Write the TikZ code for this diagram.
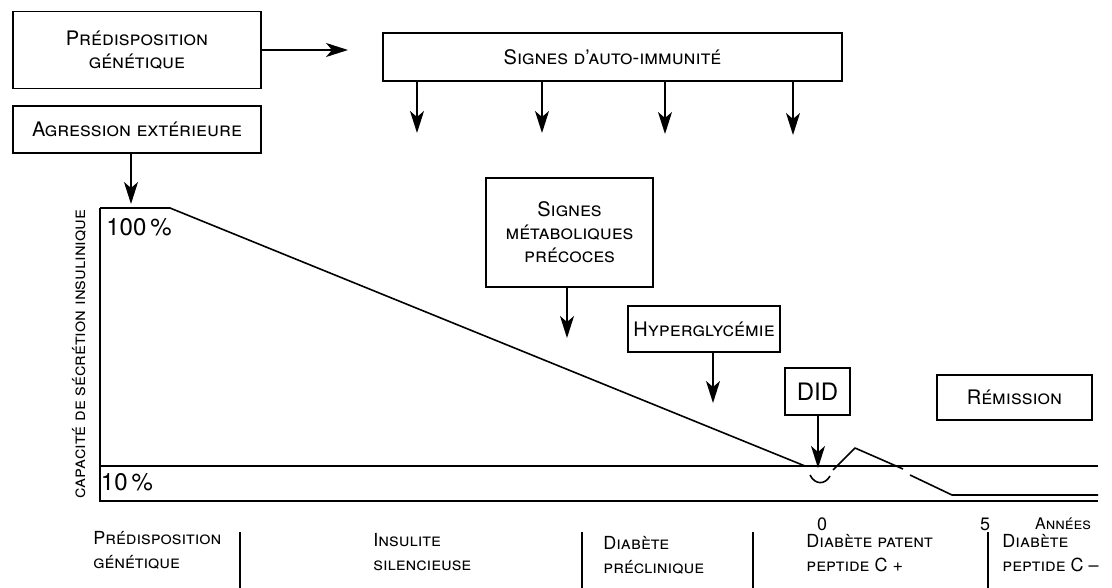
\documentclass[tikz,border=0pt]{standalone}
\usepackage{fontspec}
\setmainfont{TeX Gyre Heros}
\usetikzlibrary{arrows.meta}
\tikzstyle{box} = [rectangle, draw=black, line width=0.7pt, text centered, align=center, inner sep=1pt, font=\scshape\fontsize{10}{11.5}\selectfont]
\tikzstyle{arrow} = [line width=0.7pt, -{Stealth[length=11pt, width=7pt, inset=3pt]}]
\tikzstyle{phase} = [align=left, anchor=west, inner sep=0pt, font=\scshape\fontsize{9}{12}\selectfont]
\tikzstyle{axis} = [line width=1.2pt]
\tikzstyle{trace} = [line width=0.8pt, line join=round]

\begin{document}
\begin{tikzpicture}[x=0.5pt, y=-0.5pt]
\useasboundingbox (0,0) rectangle (1112,588);

% boxes
\node (genet) [box, minimum width=124pt, minimum height=38.5pt] at (137,50) {Prédisposition\\génétique};
\node (agress) [box, minimum width=124pt, minimum height=23.5pt] at (137,129.5) {Agression extérieure};
\node (auto) [box, minimum width=229.5pt, minimum height=24pt] at (612.5,57) {Signes d'auto-immunité};
\node (metab) [box, minimum width=83.5pt, minimum height=54.5pt] at (569.5,232.5) {Signes\\métaboliques\\précoces};
\node (hyper) [box, minimum width=76pt, minimum height=23pt] at (704,329) {Hyperglycémie};
\node (did) [box, minimum width=32.5pt, minimum height=23.5pt, font=\fontsize{12}{14}\selectfont] at (817.5,391.5) {DID};
\node (remis) [box, line width=1.3pt, minimum width=77.5pt, minimum height=22.5pt] at (1014.5,397.5) {Rémission};

% arrow ends
\coordinate (gtip) at (348,50);
\coordinate (t1) at (417,133);
\coordinate (t2) at (542,133);
\coordinate (t3) at (665,134);
\coordinate (t4) at (793,135);
\coordinate (atip) at (131,204);
\coordinate (mtip) at (567,338);
\coordinate (htip) at (713,403);
\coordinate (dtip) at (818,468);

\draw [arrow] (genet.east) -- (gtip);
\foreach \t in {t1,t2,t3,t4}
  \draw [arrow] (auto.south -| \t) -- (\t);
\draw [arrow] (agress.south -| atip) -- (atip);
\draw [arrow] (metab.south -| mtip) -- (mtip);
\draw [arrow] (hyper.south -| htip) -- (htip);
\draw [arrow] (did.south -| dtip) -- (dtip);

% axes and curve
\draw [axis] (100,208) -- (100,501) -- (1098,501);
\draw [trace] (100,466) -- (1098,466);
\draw [trace] (100,208) -- (170,208) -- (805,466);
\draw [trace] (810,475) .. controls (815,485) and (825,485) .. (830,476);
\draw [trace] (833,470) -- (855,448) -- (903,469);
\draw [trace] (910,475) -- (952,495) -- (1098,495);

\node (ylab) [rotate=90, inner sep=0pt, font=\scshape\fontsize{9}{11}\selectfont] at (79,354) {capacité de sécrétion insulinique};
\node (cent) [inner sep=0pt, font=\fontsize{12}{14}\selectfont] at (139,227) {100\,\%};
\node (dix) [inner sep=0pt, font=\fontsize{12}{14}\selectfont] at (127,482) {10\,\%};
\node (zero) [inner sep=0pt, font=\fontsize{9}{11}\selectfont] at (822,524) {0};
\node (cinq) [inner sep=0pt, font=\fontsize{9}{11}\selectfont] at (985,524) {5};
\node (annees) [inner sep=0pt, font=\scshape\fontsize{8}{10}\selectfont] at (1063,524) {Années};

% phases
\node (p1) [phase] at (93,550) {Prédisposition\\génétique};
\node (p2) [phase] at (373,552) {Insulite\\silencieuse};
\node (p3) [phase] at (603,555) {Diabète\\préclinique};
\node (p4) [phase] at (806,553) {Diabète patent\\peptide C +};
\node (p5) [phase] at (1002,553) {Diabète\\peptide C –};
\foreach \x in {240,582,753,988}
  \draw [line width=0.7pt] (\x,532) -- (\x,588);
\end{tikzpicture}
\end{document}
